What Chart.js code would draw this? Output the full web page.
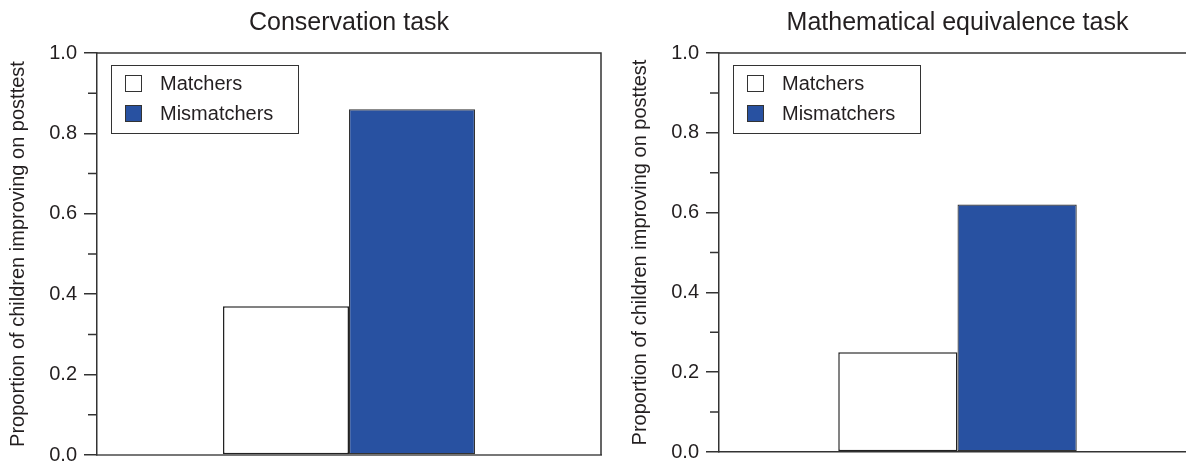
<!DOCTYPE html>
<html>
<head>
<meta charset="utf-8">
<title>Proportion of children improving on posttest</title>
<script src="https://cdn.jsdelivr.net/npm/chart.js@4/dist/chart.umd.min.js"></script>
<style>
  html, body { margin: 0; padding: 0; background: #fff; }
  body { width: 1186px; height: 463px; position: relative; overflow: hidden; }
  canvas { position: absolute; top: 0; }
</style>
</head>
<body>
<canvas id="conservation" width="610" height="463" style="left:0px"></canvas>
<canvas id="equivalence" width="590" height="463" style="left:622px"></canvas>
<script>
// Task panels and groups
const tasks = ['Conservation task', 'Mathematical equivalence task'];
const groups = ['Matchers', 'Mismatchers'];

// Proportion of children improving on posttest, per task
const matchers = [0.37, 0.25];
const mismatchers = [0.86, 0.62];

// Labelled and unlabelled y-axis ticks
const yTicks = [0, 0.2, 0.4, 0.6, 0.8, 1.0];
const yMinorTicks = [0.1, 0.3, 0.5, 0.7, 0.9];

const FONT = '"Liberation Sans", Arial, Helvetica, sans-serif';
const INK = '#231f20';
const BLUE = '#2851a1';
Chart.defaults.font.family = FONT;
Chart.defaults.color = INK;

// Top and right edges of the plot frame, plus the short unlabelled ticks
const framePlugin = {
  id: 'frame',
  afterDatasetsDraw(chart) {
    const { ctx, chartArea: a } = chart;
    const y = chart.scales.y;
    ctx.save();
    ctx.strokeStyle = '#333';
    ctx.lineWidth = 1.5;
    ctx.beginPath();
    ctx.moveTo(a.left, a.top);
    ctx.lineTo(a.right, a.top);
    ctx.lineTo(a.right, a.bottom);
    ctx.stroke();
    ctx.beginPath();
    yMinorTicks.forEach(v => {
      const py = y.getPixelForValue(v);
      ctx.moveTo(a.left - 9, py);
      ctx.lineTo(a.left, py);
    });
    ctx.stroke();
    ctx.restore();
  }
};

// Boxed legend in the upper-left corner of the plot area
const boxLegendPlugin = {
  id: 'boxLegend',
  afterDraw(chart) {
    const { ctx, chartArea: a } = chart;
    const x0 = a.left + 14, y0 = a.top + 12, w = 187, h = 68;
    ctx.save();
    ctx.fillStyle = '#fff';
    ctx.fillRect(x0, y0, w, h);
    ctx.strokeStyle = '#333';
    ctx.lineWidth = 1;
    ctx.strokeRect(x0 + 0.5, y0 + 0.5, w, h);
    ctx.font = '20px ' + FONT;
    ctx.textBaseline = 'middle';
    chart.data.datasets.forEach((ds, i) => {
      const sy = y0 + 10 + i * 30;
      ctx.fillStyle = ds.backgroundColor;
      ctx.fillRect(x0 + 14, sy, 16, 16);
      ctx.strokeStyle = '#333';
      ctx.strokeRect(x0 + 14.5, sy + 0.5, 16, 16);
      ctx.fillStyle = INK;
      ctx.fillText(ds.label, x0 + 49, sy + 9);
    });
    ctx.restore();
  }
};

function makePanel(canvasId, idx, opts) {
  return new Chart(document.getElementById(canvasId), {
    type: 'bar',
    data: {
      labels: [tasks[idx]],
      datasets: [
        {
          label: groups[0],
          data: [matchers[idx]],
          backgroundColor: '#ffffff',
          borderColor: '#222',
          borderWidth: 1.5,
          borderSkipped: false
        },
        {
          label: groups[1],
          data: [mismatchers[idx]],
          backgroundColor: BLUE,
          borderColor: '#333',
          borderWidth: 1.2,
          borderSkipped: false
        }
      ]
    },
    options: {
      responsive: false,
      animation: false,
      devicePixelRatio: 1,
      layout: { padding: { top: 0, left: 0, right: opts.padRight, bottom: opts.padBottom } },
      datasets: { bar: { categoryPercentage: 0.5, barPercentage: 1.0 } },
      plugins: {
        legend: { display: false },
        tooltip: { enabled: false },
        title: {
          display: true,
          fullSize: false,
          text: tasks[idx],
          color: INK,
          font: { size: 25, weight: 'normal', family: FONT },
          padding: { top: 8, bottom: 15 }
        }
      },
      scales: {
        x: {
          ticks: { display: false },
          grid: { display: false, drawTicks: false },
          border: { display: true, color: opts.baseColor, width: opts.baseWidth },
          afterFit(s) { s.height = 0; }
        },
        y: {
          min: 0,
          max: 1,
          afterBuildTicks(s) { s.ticks = yTicks.map(v => ({ value: v })); },
          ticks: {
            color: INK,
            font: { size: 20, family: FONT },
            padding: 7,
            callback: v => Number(v).toFixed(1)
          },
          grid: { drawOnChartArea: false, drawTicks: true, tickLength: 13, tickColor: '#333', lineWidth: 1.5 },
          border: { display: true, color: '#333', width: 1.5 },
          title: {
            display: true,
            text: 'Proportion of children improving on posttest',
            color: INK,
            font: { size: 20, family: FONT },
            padding: { top: 6, bottom: 0 }
          },
          afterFit(s) {
            s.width = 97;
            // end labels may overhang the plot edges; the page margins already hold them
            s.paddingTop = 0;
            s.paddingBottom = 0;
          }
        }
      }
    },
    plugins: [framePlugin, boxLegendPlugin]
  });
}

makePanel('conservation', 0, { padRight: 9, padBottom: 8, baseColor: '#777', baseWidth: 2 });
makePanel('equivalence', 1, { padRight: 16, padBottom: 11, baseColor: '#333', baseWidth: 1.5 });
</script>
</body>
</html>
